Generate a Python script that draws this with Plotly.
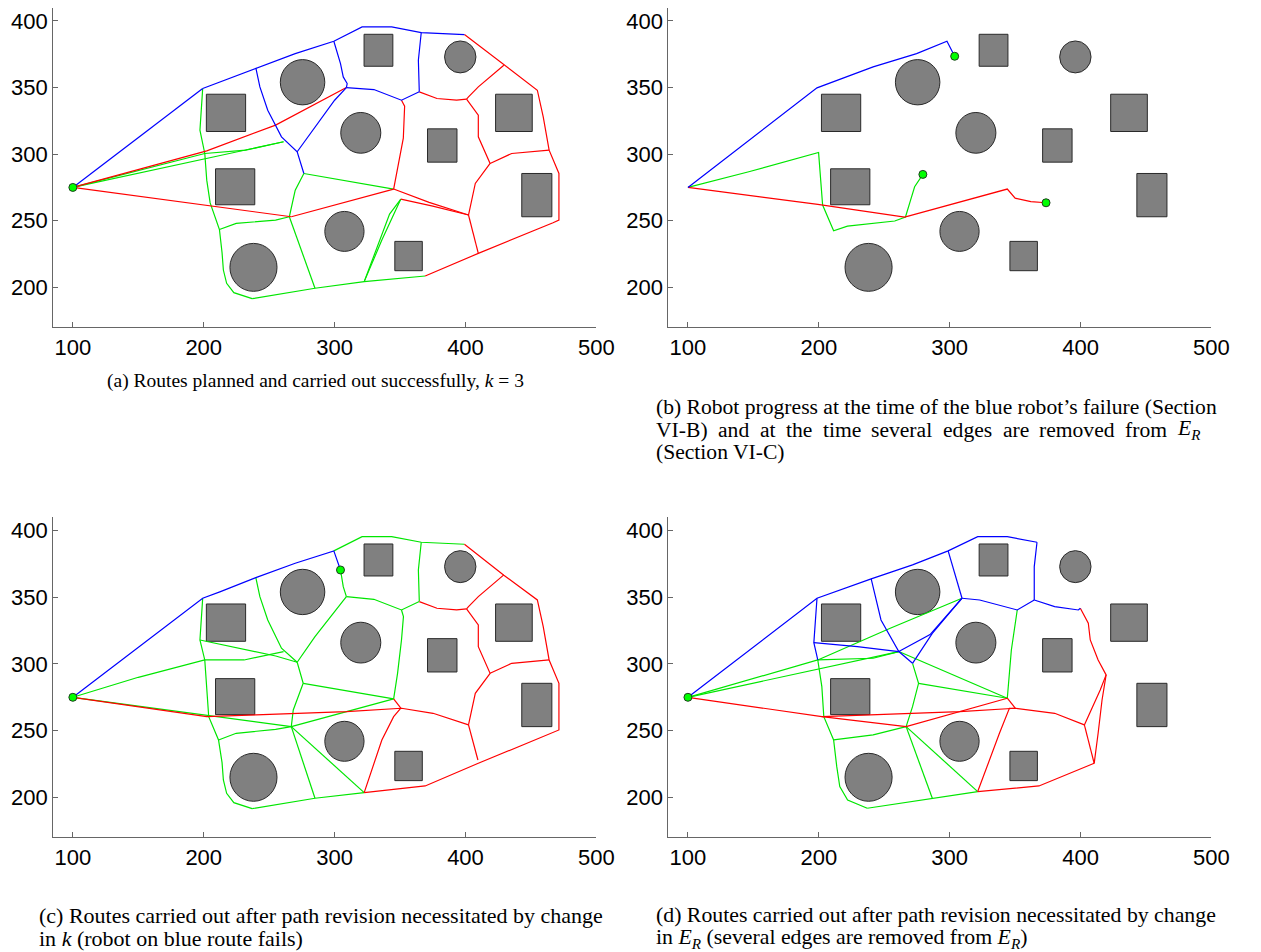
import plotly.graph_objects as go

W, H = 1261, 952

# ---------------- data ----------------
X_RANGE = [85, 500]
Y_RANGE = [170, 410]
X_TICKS = [100, 200, 300, 400, 500]
Y_TICKS = [200, 250, 300, 350, 400]

START = (100, 275)

# obstacles: rectangles (x0, x1, y0, y1) and circles (cx, cy, r)
SQUARES = [(322.5, 344.5, 366, 390), (202, 232, 317, 345), (209, 239, 262, 289),
           (371, 393.5, 294, 319), (423, 451, 317, 345), (443, 466, 253, 285.5),
           (346, 367, 212.5, 234.5)]
CIRCLES = [(396, 373, 12), (275.5, 354, 17), (320, 316, 15.3), (307.5, 242, 15), (238, 215, 18)]

# ---- panel (a) routes ----
A_BLUE = [
    [(100, 275), (199.2, 349.3)],
    [(199.2, 349.3), (212.8, 354.3), (239.8, 364.8), (269.9, 375.5), (299.4, 384.8), (309, 389.3),
     (321, 395.5), (343.6, 395.5), (366.2, 391.3), (399.2, 389.8)],
    [(239.8, 364.8), (242.9, 350.5), (248.9, 333), (259.4, 313), (271.4, 301.8), (276.5, 285.5)],
    [(271.4, 301.8), (285, 320.5), (300, 340.5), (309, 350)],
    [(299.4, 384.8), (304.5, 368), (306.6, 358), (309.6, 353), (309, 350)],
    [(309, 350), (330, 348.5), (351.1, 340.5), (364.7, 346.8)],
    [(364.7, 346.8), (364, 370.5), (366.2, 391.3)],
]
A_RED = [
    [(100, 275), (202.3, 261.3), (266.9, 253)],
    [(266.9, 253), (345.1, 273.8)],
    [(100, 275), (202.3, 302.5), (254.9, 321.8), (309, 350)],
    [(351.1, 340.5), (353.5, 336), (352.5, 312), (348.5, 290), (345.1, 273.8)],
    [(364.7, 346.8), (378.2, 341.8), (393.2, 340.5), (400.8, 341.3)],
    [(399.2, 389.8), (409.8, 381.8), (429.3, 366.8), (454.9, 348), (459.4, 328), (463.9, 303),
     (471.4, 285.5), (471.4, 250.5), (466.9, 248.5), (409.8, 225.5), (369.2, 208.5)],
    [(429.3, 366.8), (409.8, 350.5), (402.3, 343), (400.8, 341.3)],
    [(400.8, 341.3), (409.8, 329.3), (409.8, 313), (418.8, 293), (407.5, 278), (402.3, 254.3)],
    [(418.8, 293), (435.3, 300.5), (463.9, 303)],
    [(402.3, 254.3), (409.8, 225.5)],
    [(345.1, 273.8), (372.2, 263.8), (402.3, 254.3)],
    [(350.6, 266.3), (375, 261), (402.3, 254.3)],
]
A_GREEN = [
    [(100, 275), (261, 309.3)],
    [(100, 275), (200.8, 300.5), (232, 303), (261, 309.3)],
    [(199.2, 349.3), (197.1, 318), (200.8, 300.5), (202.3, 280.5), (204.9, 263.4), (212, 243.4),
     (214, 226), (215, 213), (217.5, 203), (223, 196), (237, 191.5)],
    [(237, 191.5), (285, 199.3), (322.6, 204.3), (369.2, 208.5)],
    [(212, 243.4), (224.8, 248), (254.9, 250.5), (265.4, 253)],
    [(265.4, 253), (285, 199.3)],
    [(265.4, 253), (269.9, 273), (276.5, 285.5)],
    [(276.5, 285.5), (345.1, 273.8)],
    [(322.6, 204.3), (336.1, 235.5), (350.6, 266.3)],
    [(322.6, 204.3), (332, 229), (342, 255), (350.6, 266.3)],
]

# ---- panel (b) routes (progress at time of failure) ----
B_BLUE = [[(100, 275), (198.6, 349.8), (241.5, 365.5), (274.7, 375.5), (297.9, 384.8), (303.8, 373.5)]]
B_GREEN = [[(100, 275), (146.5, 286.8), (199.8, 301.3), (202.9, 261.8), (211.3, 242.5), (221.9, 246),
            (258, 249.8), (266.2, 252.8), (270.1, 265.5), (273.2, 275.5), (279.5, 284.8)]]
B_RED = [[(100, 275), (199.2, 262.3), (265.6, 252.8), (344, 273.8), (350, 267), (362, 264.3), (373.6, 263.5)]]
B_DOTS = [(303.8, 373.5), (279.5, 284.8), (373.6, 263.5)]

# ---- panel (c) routes ----
C_BLUE = [[(100, 275), (199.2, 349.3), (212.8, 354.3), (239.8, 364.8), (269.9, 375.5), (299.4, 384.8),
           (304.5, 370.5)]]
C_GREEN = [
    [(304.5, 370.5), (306.6, 358), (309, 350.5)],
    [(299.4, 384.8), (309, 389.3), (321, 395.5), (343.6, 395.5), (366.2, 391.3), (399.2, 389.8)],
    [(366.2, 391.3), (364, 370.5), (364.7, 347.3)],
    [(309, 350.5), (330, 348.5), (351.1, 340.5), (364.7, 346.8)],
    [(351.1, 340.5), (352.6, 335.5), (351.1, 318), (348.1, 293), (345.1, 273.8)],
    [(239.8, 364.8), (242.9, 350.5), (248.9, 333), (259.4, 311.8), (271.4, 301.3)],
    [(309, 350.5), (285, 320.5), (271.4, 301.3)],
    [(199.2, 349.3), (197.1, 318), (200.8, 303), (202.3, 283), (203.8, 260.5), (211.3, 243),
     (214, 226), (215, 213), (217.5, 203), (223, 196), (237, 191.5)],
    [(197.1, 318), (230.8, 311), (255, 306), (271.4, 301.3)],
    [(100, 275), (150, 290), (200.8, 303), (230.8, 303), (261, 309.3)],
    [(100, 275), (202.3, 261.8), (266.9, 253)],
    [(211.3, 243), (224.8, 248), (254.9, 251), (266.9, 253)],
    [(266.9, 253), (268.4, 265.5), (276, 285.5), (271.4, 301.3)],
    [(276, 285.5), (345.1, 273.8)],
    [(266.9, 253), (345.1, 273.8)],
    [(266.9, 253), (285, 199.3)],
    [(266.9, 253), (322.6, 203.5)],
    [(237, 191.5), (285, 199.3), (322.6, 203.5)],
]
C_RED = [
    [(100, 275), (202.3, 260.5), (239.8, 261.8), (309, 264.3), (351.1, 266.8), (375.2, 263), (402.3, 254.3)],
    [(322.6, 203.5), (369.2, 208.5), (409.8, 225.5), (466.9, 248.5), (471.4, 250.5), (471.4, 285.5),
     (463.9, 303), (459.4, 328), (454.9, 348), (429.3, 366.5), (409.8, 381.8), (399.2, 389.8)],
    [(322.6, 203.5), (330, 225.5), (336.1, 243), (345.1, 260.5), (350.6, 266.8)],
    [(345.1, 273.8), (350.6, 266.8)],
    [(364.7, 346.8), (378.2, 341.8), (393.2, 340.5), (400.8, 341.3)],
    [(429.3, 366.8), (409.8, 350.5), (402.3, 343), (400.8, 341.3)],
    [(400.8, 341.3), (409.8, 329.3), (409.8, 313), (418.8, 293), (407.5, 278), (402.3, 254.3)],
    [(418.8, 293), (435.3, 300.5), (463.9, 303)],
    [(402.3, 254.3), (409.5, 228)],
]
C_DOTS = [(304.5, 370.5)]

# ---- panel (d) routes ----
D_BLUE = [
    [(100, 275), (198.6, 349.3), (240, 363.8), (271.6, 374.3), (298.8, 384.8), (321.4, 395.5),
     (344, 395.5), (366.7, 391.3)],
    [(366.7, 391.3), (364.6, 373), (364.6, 348)],
    [(364.6, 348), (380.2, 343), (398.3, 340.5), (399.8, 341.8)],
    [(298.8, 384.8), (304.8, 365.5), (309.4, 349.3)],
    [(309.4, 349.3), (322.9, 348), (351.6, 340.5), (364.6, 348)],
    [(240, 363.8), (247.5, 333), (261.1, 309.3), (271.6, 300.5)],
    [(309.4, 349.3), (285, 322), (261.1, 309.3)],
    [(309.4, 349.3), (286.7, 323), (271.6, 300.5)],
    [(198.6, 349.3), (196.2, 316), (199.2, 303)],
    [(196.2, 316), (229.4, 313), (261.1, 309.3)],
]
D_GREEN = [
    [(309.4, 349.3), (255, 327), (199.2, 303)],
    [(100, 275), (199.2, 303), (241.5, 304.3), (261.1, 309.3)],
    [(100, 275), (261.1, 309.3)],
    [(261.1, 309.3), (344, 274.3)],
    [(271.6, 300.5), (276.2, 285.5), (271.6, 268), (266.7, 253)],
    [(276.2, 285.5), (344, 274.3)],
    [(344, 274.3), (347.1, 310.5), (351.6, 340.5)],
    [(199.2, 303), (202.3, 283), (203.8, 260.5), (211.3, 243), (213.7, 223), (216, 208),
     (222, 198), (237, 191.8)],
    [(211.3, 243), (241.5, 246.8), (266.7, 253)],
    [(266.7, 253), (286.7, 199.3)],
    [(266.7, 253), (321.4, 204.3)],
    [(237, 191.8), (286.7, 199.3), (321.4, 204.3)],
]
D_RED = [
    [(100, 275), (202.3, 260.5), (266.7, 253), (344, 274.3)],
    [(202.3, 260.5), (240, 261.8), (307.8, 264.3), (350.1, 266.8), (380.2, 263), (402.9, 254.3)],
    [(344, 274.3), (350.1, 266.8)],
    [(399.8, 341.8), (405.9, 330.5), (407.4, 318), (413.4, 303), (419.5, 291.8), (415, 280.5), (402.9, 254.3)],
    [(419.5, 291.8), (416.4, 273), (413.4, 248), (410.4, 225.5)],
    [(402.9, 254.3), (410.4, 225.5)],
    [(410.4, 225.5), (368.2, 208.5), (321.4, 204.3)],
    [(321.4, 204.3), (332, 233), (338, 248), (345.6, 266.8), (350.1, 266.8)],
]

# captions
CAP_A = "(a) Routes planned and carried out successfully, <i>k</i> = 3"
CAP_B1 = "(b) Robot progress at the time of the blue robot\u2019s failure (Section"
CAP_B2_WORDS = ["VI-B)", "and", "at", "the", "time", "several", "edges", "are", "removed", "from",
                "<i>E</i><sub><i>R</i></sub>"]
CAP_B2_X = [663, 726, 768.5, 795, 832.5, 882, 954.5, 1015, 1052.5, 1139, 1192]
CAP_B3 = "(Section VI-C)"
CAP_C1 = "(c) Routes carried out after path revision necessitated by change"
CAP_C2 = "in <i>k</i> (robot on blue route fails)"
CAP_D1 = "(d) Routes carried out after path revision necessitated by change"
CAP_D2 = "in <i>E</i><sub><i>R</i></sub> (several edges are removed from <i>E</i><sub><i>R</i></sub>)"

# ---------------- layout geometry (pixels) ----------------
XDOM = {'L': (54, 605), 'R': (678, 1229)}
YDOM = {'T': (7.65, 327.3), 'B': (517.3, 837.3)}
PANELS = [
    ('', 'L', 'T', A_BLUE, A_GREEN, A_RED, [START]),
    ('2', 'R', 'T', B_BLUE, B_GREEN, B_RED, B_DOTS),
    ('3', 'L', 'B', C_BLUE, C_GREEN, C_RED, [START] + C_DOTS),
    ('4', 'R', 'B', D_BLUE, D_GREEN, D_RED, [START]),
]

BLUE, GREEN, RED = '#0000ff', '#00e600', '#ff0000'
LW = 1.2

fig = go.Figure()
shapes = []


def flat(polys):
    xs, ys = [], []
    for p in polys:
        for (x, y) in p:
            xs.append(x)
            ys.append(y)
        xs.append(None)
        ys.append(None)
    return xs, ys


layout_axes = {}
TICKFONT = dict(family='Liberation Sans', size=22, color='black')
for sfx, xd, yd, blue, green, red, dots in PANELS:
    xa, ya = 'x' + sfx, 'y' + sfx
    for (x0, x1, y0, y1) in SQUARES:
        shapes.append(dict(type='rect', xref=xa, yref=ya, x0=x0, x1=x1, y0=y0, y1=y1,
                           fillcolor='#808080', line=dict(color='#2a2a2a', width=1), layer='below'))
    for (cx, cy, r) in CIRCLES:
        shapes.append(dict(type='circle', xref=xa, yref=ya, x0=cx - r, x1=cx + r, y0=cy - r, y1=cy + r,
                           fillcolor='#808080', line=dict(color='#2a2a2a', width=1), layer='below'))
    for polys, col in ((green, GREEN), (red, RED), (blue, BLUE)):
        xs, ys = flat(polys)
        fig.add_trace(go.Scatter(x=xs, y=ys, mode='lines', xaxis=xa, yaxis=ya,
                                 line=dict(color=col, width=LW), hoverinfo='skip', showlegend=False))
    fig.add_trace(go.Scatter(x=[d[0] for d in dots], y=[d[1] for d in dots], mode='markers',
                             xaxis=xa, yaxis=ya, showlegend=False, hoverinfo='skip',
                             marker=dict(size=8, color='#00ff00', line=dict(color='#1f3f1f', width=1))))
    xk = 'xaxis' + sfx
    yk = 'yaxis' + sfx
    layout_axes[xk] = dict(domain=[XDOM[xd][0] / W, XDOM[xd][1] / W], range=X_RANGE, anchor=ya,
                           tickvals=X_TICKS, ticks='inside', ticklen=5, tickcolor='#666',
                           showline=True, linecolor='#666', linewidth=1, showgrid=False,
                           zeroline=False, tickfont=TICKFONT, fixedrange=True)
    layout_axes[yk] = dict(domain=[1 - YDOM[yd][1] / H, 1 - YDOM[yd][0] / H], range=Y_RANGE, anchor=xa,
                           tickvals=Y_TICKS, ticks='inside', ticklen=5, tickcolor='#666',
                           showline=True, linecolor='#666', linewidth=1, showgrid=False,
                           zeroline=False, tickfont=TICKFONT, fixedrange=True)

ann = []


def cap(text, xpx, ypx, anchor='left', size=22):
    ann.append(dict(text=text, x=xpx / W, y=1 - ypx / H, xref='paper', yref='paper',
                    xanchor=anchor, yanchor='middle', showarrow=False,
                    font=dict(family='Liberation Serif', size=size, color='black')))


cap(CAP_A, 320, 381, 'center', 19.5)
cap(CAP_B1, 663, 407, size=21.6)
for wd, xp in zip(CAP_B2_WORDS, CAP_B2_X):
    cap(wd, xp, 430, size=21.6)
cap(CAP_B3, 663, 452, size=21.6)
cap(CAP_C1, 38, 915)
cap(CAP_C2, 38, 938)
cap(CAP_D1, 663, 915, size=21.8)
cap(CAP_D2, 663, 938, size=21.8)

fig.update_layout(width=W, height=H, margin=dict(l=0, r=0, t=0, b=0), paper_bgcolor='white',
                  plot_bgcolor='white', shapes=shapes, annotations=ann, showlegend=False,
                  hovermode=False, **layout_axes)

fig.write_html("out.html", config={'displayModeBar': False, 'staticPlot': True},
               post_script="document.body.style.margin='0px';document.body.style.overflow='hidden';")
